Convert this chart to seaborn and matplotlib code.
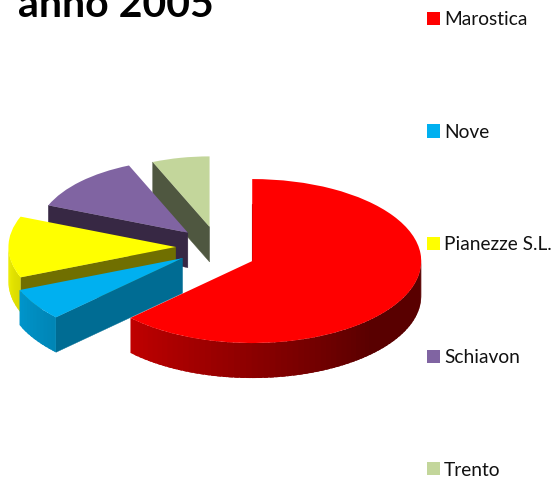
import numpy as np
import seaborn as sns
import matplotlib
matplotlib.use("Agg")
import matplotlib.pyplot as plt

comuni = ["Marostica", "Nove", "Pianezze S.L.", "Schiavon", "Trento"]
quote = [62.8, 6.1, 12.2, 12.5, 6.4]

colori = ["#FF0000", "#00B0F0", "#FFFF00", "#8064A2", "#C3D69B"]
colori_taglio = ["#5A0000", "#006C93", "#706F00", "#372844", "#4F5740"]
stacco = [0.22, 0.25, 0.25, 0.25, 0.25]
raggio = [1, 1.04, 0.99, 0.89, 0.86]  # back slices look smaller, fake perspective

W, H = 553, 480
CX, CY = 218, 247  # pie centre in pixels
RX, RY = 169, 82   # pie radii in pixels
SPESSORE = 35 / RY

sns.set_theme(style="white")
plt.rcParams["font.family"] = ["Lato", "DejaVu Sans"]

fig = plt.figure(figsize=(W / 100, H / 100), dpi=100)
ax = fig.add_axes([0, 0, 1, 1])

wedges, _ = ax.pie(quote, colors=colori, explode=stacco, startangle=90, counterclock=False,
                   radius=1, wedgeprops={"linewidth": 0})

ax.set_aspect("auto")
ax.set_xlim(-CX / RX, (W - CX) / RX)
ax.set_ylim((CY - H) / RY, CY / RY)

for w, r in zip(wedges, raggio):
    w.set_radius(r)

# red slice sits a bit lower than the plain explode gives
cx0, cy0 = wedges[0].center
wedges[0].set_center((cx0, cy0 - 7 / RY))


def ombra(colore, theta):
    # wall gets darker going round the front of the pie
    f = np.clip(0.95 - (theta + 180) * 0.00444, 0.35, 1)
    return tuple(c * f for c in matplotlib.colors.to_rgb(colore))


# back to front so nearer slices cover the walls behind them
for i in [4, 3, 2, 1, 0]:
    w = wedges[i]
    z = 2 + (4 - i) * 2
    cx, cy = w.center
    w.set_zorder(z + 1)
    for th, norm in [(w.theta1, w.theta1 - 90), (w.theta2, w.theta2 + 90)]:
        if np.sin(np.radians(norm)) < -0.01:
            px = cx + w.r * np.cos(np.radians(th))
            py = cy + w.r * np.sin(np.radians(th))
            ax.fill([cx, px, px, cx], [cy, py, py - SPESSORE, cy - SPESSORE],
                    color=colori_taglio[i], lw=0.3, zorder=z)
    angoli = np.arange(w.theta1, w.theta2 + 2, 2.0)
    for a, b in zip(angoli[:-1], angoli[1:]):
        b = min(b + 1.5, w.theta2)  # overlap so no seams show
        m = np.radians((a + b) / 2) % (2 * np.pi)
        if np.sin(m) >= 0:
            continue
        xa, ya = cx + w.r * np.cos(np.radians(a)), cy + w.r * np.sin(np.radians(a))
        xb, yb = cx + w.r * np.cos(np.radians(b)), cy + w.r * np.sin(np.radians(b))
        th = np.degrees(m) - 360
        ax.fill([xa, xb, xb, xa], [ya, yb, yb - SPESSORE, ya - SPESSORE],
                color=ombra(colori[i], th), lw=0, zorder=z)

# thin dark edge on the vertical cut of the red slice
cx, cy = wedges[0].center
ax.plot([cx - 0.5 / RX, cx - 0.5 / RX], [cy, cy + 0.7], color="#7A0000", lw=0.8, zorder=1)

leg = ax.legend(wedges, comuni, loc="upper left", bbox_to_anchor=(427 / W, 1 - 11 / H),
                frameon=False, fontsize=13.8, labelspacing=4.99, borderpad=0, borderaxespad=0,
                handlelength=0.69, handleheight=0.69, handletextpad=0.2, labelcolor="#111111")

fig.text(18 / W, 1 - 17 / H, "anno 2005", fontsize=29.5, fontweight="bold", color="black",
         ha="left", va="baseline")

fig.savefig("out.png", dpi=100)
